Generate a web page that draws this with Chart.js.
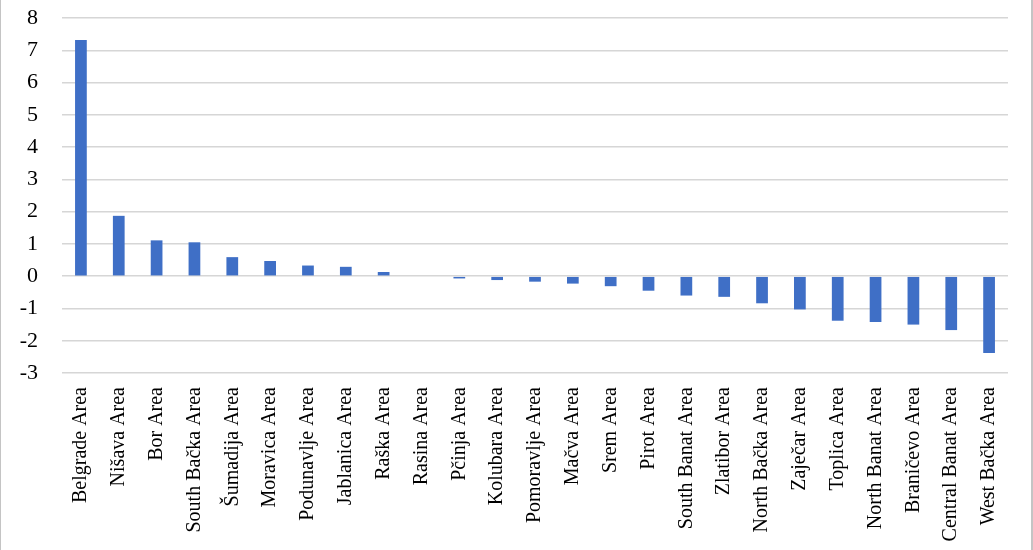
<!DOCTYPE html>
<html>
<head>
<meta charset="utf-8">
<script src="https://cdn.jsdelivr.net/npm/chart.js@4"></script>
<style>
  body { margin: 0; background: #fff; }
  #caixa { width: 1033px; height: 550px; box-sizing: border-box; border-left: 1px solid #c4c4c4; border-right: 2px solid #c4c4c4; }
  canvas { display: block; }
</style>
</head>
<body>
<div id="caixa">
  <canvas id="myChart" width="1030" height="550"></canvas>
</div>
<script>
// areas (okruzi) e valores
var areas = ['Belgrade Area', 'Nišava Area', 'Bor Area', 'South Bačka Area', 'Šumadija Area',
  'Moravica Area', 'Podunavlje Area', 'Jablanica Area', 'Raška Area', 'Rasina Area',
  'Pčinja Area', 'Kolubara Area', 'Pomoravlje Area', 'Mačva Area', 'Srem Area',
  'Pirot Area', 'South Banat Area', 'Zlatibor Area', 'North Bačka Area', 'Zaječar Area',
  'Toplica Area', 'North Banat Area', 'Braničevo Area', 'Central Banat Area', 'West Bačka Area'];
var valores = [7.32, 1.87, 1.11, 1.05, 0.59,
  0.47, 0.33, 0.29, 0.13, 0,
  -0.07, -0.12, -0.17, -0.23, -0.31,
  -0.45, -0.6, -0.64, -0.84, -1.03,
  -1.38, -1.42, -1.5, -1.67, -2.38];
var y_min = -3;
var y_max = 8;

var fonte = 'Liberation Serif, "Times New Roman", serif';

const ctx = document.getElementById('myChart');
const grafico = new Chart(ctx, {
  type: 'bar',
  data: {
    labels: areas,
    datasets: [{
      data: valores,
      backgroundColor: '#3f6fc6',
      borderWidth: 0,
      barPercentage: 0.31,
      categoryPercentage: 1
    }]
  },
  options: {
    responsive: false,
    animation: false,
    layout: {
      padding: { top: 18, right: 23, left: 0, bottom: 0 }
    },
    plugins: {
      legend: { display: false },
      tooltip: { enabled: false }
    },
    scales: {
      x: {
        grid: { display: false, drawTicks: false },
        border: { display: false },
        ticks: {
          autoSkip: false,
          minRotation: 90,
          maxRotation: 90,
          padding: 14,
          color: '#000',
          font: { family: fonte, size: 20 }
        },
        afterFit: function (scale) { scale.height = 177; }
      },
      y: {
        min: y_min,
        max: y_max,
        grid: { color: '#d6d6d6', lineWidth: 1.5, drawTicks: false },
        border: { display: false },
        ticks: {
          stepSize: 1,
          padding: 24,
          color: '#000',
          font: { family: fonte, size: 22 }
        },
        afterFit: function (scale) {
          scale.width = 61;
          scale.paddingTop = 0;
          scale.paddingBottom = 0;
        }
      }
    }
  }
});
</script>
</body>
</html>
